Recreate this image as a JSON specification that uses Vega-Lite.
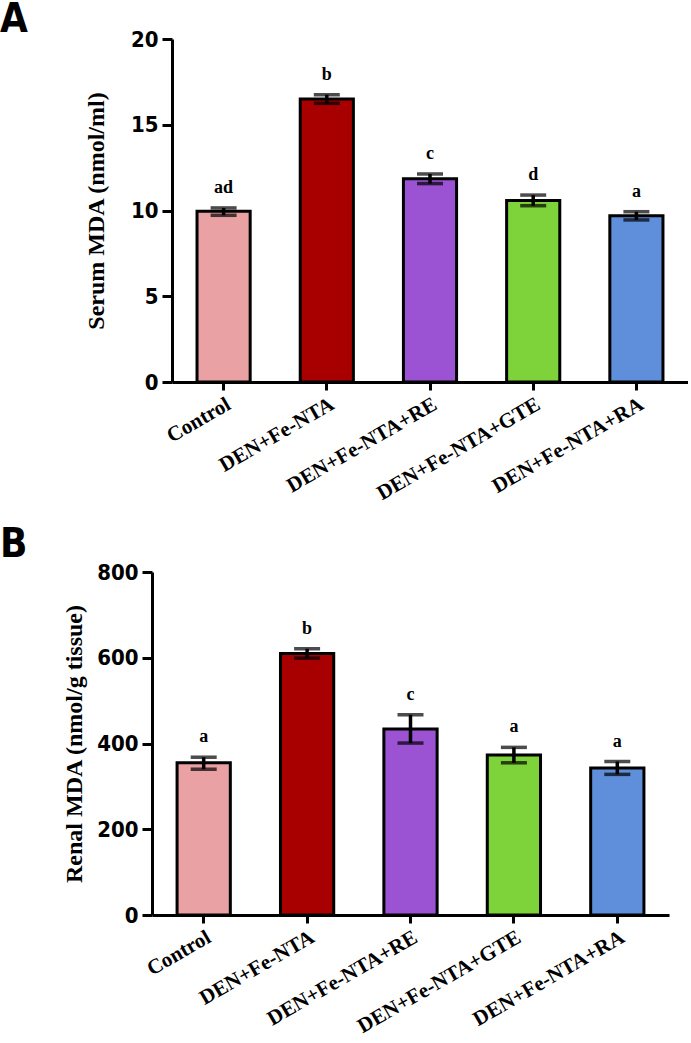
{
  "$schema": "https://vega.github.io/schema/vega-lite/v6.json",
  "padding": 0,
  "background": "white",
  "config": {
    "view": {"stroke": null},
    "axis": {"grid": false, "domainColor": "black", "domainWidth": 3, "tickColor": "black", "tickWidth": 3, "labelColor": "black", "titleColor": "black"},
    "axisX": {"labelFont": "Liberation Serif", "labelFontWeight": "bold", "labelFontSize": 21, "labelAngle": -30, "tickSize": 8, "labelPadding": 3, "labelLimit": 400},
    "axisY": {"labelFont": "Liberation Sans Narrow, DejaVu Sans Condensed, sans-serif", "labelFontWeight": "bold", "labelFontSize": 22, "tickSize": 10, "labelPadding": 4, "titleFont": "Liberation Serif", "titleFontWeight": "bold", "titleFontSize": 24},
    "title": {"font": "Liberation Sans Narrow, DejaVu Sans Condensed, sans-serif", "fontSize": 40, "fontWeight": "bold", "anchor": "start", "frame": "group", "color": "black", "offset": 0}
  },
  "vconcat": [
    {
      "title": {"text": "A", "dx": -152, "dy": 16},
      "width": 536,
      "height": 343,
      "data": {"values": [
        {"group": "Control", "mean": 9.95, "lo": 9.72, "hi": 10.15, "letter": "ad"},
        {"group": "DEN+Fe-NTA", "mean": 16.5, "lo": 16.25, "hi": 16.75, "letter": "b"},
        {"group": "DEN+Fe-NTA+RE", "mean": 11.85, "lo": 11.57, "hi": 12.13, "letter": "c"},
        {"group": "DEN+Fe-NTA+GTE", "mean": 10.58, "lo": 10.28, "hi": 10.9, "letter": "d"},
        {"group": "DEN+Fe-NTA+RA", "mean": 9.7, "lo": 9.45, "hi": 9.93, "letter": "a"}
      ]},
      "encoding": {
        "x": {"field": "group", "type": "nominal", "sort": null, "title": null, "scale": {"range": [20, 536], "paddingInner": 0.485, "paddingOuter": 0.2425}}
      },
      "layer": [
        {
          "mark": {"type": "bar", "stroke": "black", "strokeWidth": 3},
          "encoding": {
            "y": {"field": "mean", "type": "quantitative", "title": "Serum MDA (nmol/ml)", "scale": {"domain": [0, 20], "nice": false}, "axis": {"values": [0, 5, 10, 15, 20], "titlePadding": 22, "offset": -20}},
            "color": {"field": "group", "type": "nominal", "sort": null, "legend": null, "scale": {"domain": ["Control", "DEN+Fe-NTA", "DEN+Fe-NTA+RE", "DEN+Fe-NTA+GTE", "DEN+Fe-NTA+RA"], "range": ["#E9A1A3", "#A80000", "#9B52D3", "#7ED23A", "#5F8FDB"]}}
          }
        },
        {
          "mark": {"type": "errorbar", "ticks": {"size": 26, "thickness": 3.5, "color": "black"}, "rule": {"strokeWidth": 3.5, "color": "black"}},
          "encoding": {
            "y": {"field": "lo", "type": "quantitative", "title": "Serum MDA (nmol/ml)"},
            "y2": {"field": "hi"}
          }
        },
        {
          "mark": {"type": "text", "dy": -20, "font": "Liberation Serif", "fontWeight": "bold", "fontSize": 18, "baseline": "middle", "color": "black"},
          "encoding": {
            "y": {"field": "hi", "type": "quantitative", "title": "Serum MDA (nmol/ml)"},
            "text": {"field": "letter"}
          }
        }
      ]
    },
    {
      "title": {"text": "B", "dx": -152, "dy": 8},
      "width": 517,
      "height": 343,
      "data": {"values": [
        {"group": "Control", "mean": 355, "lo": 340, "hi": 368, "letter": "a"},
        {"group": "DEN+Fe-NTA", "mean": 610, "lo": 599, "hi": 621, "letter": "b"},
        {"group": "DEN+Fe-NTA+RE", "mean": 434, "lo": 401, "hi": 467, "letter": "c"},
        {"group": "DEN+Fe-NTA+GTE", "mean": 373, "lo": 355, "hi": 391, "letter": "a"},
        {"group": "DEN+Fe-NTA+RA", "mean": 343, "lo": 328, "hi": 358, "letter": "a"}
      ]},
      "encoding": {
        "x": {"field": "group", "type": "nominal", "sort": null, "title": null, "scale": {"paddingInner": 0.485, "paddingOuter": 0.2425}}
      },
      "layer": [
        {
          "mark": {"type": "bar", "stroke": "black", "strokeWidth": 3},
          "encoding": {
            "y": {"field": "mean", "type": "quantitative", "title": "Renal MDA (nmol/g tissue)", "scale": {"domain": [0, 800], "nice": false}, "axis": {"values": [0, 200, 400, 600, 800], "titlePadding": 10}},
            "color": {"field": "group", "type": "nominal", "sort": null, "legend": null, "scale": {"domain": ["Control", "DEN+Fe-NTA", "DEN+Fe-NTA+RE", "DEN+Fe-NTA+GTE", "DEN+Fe-NTA+RA"], "range": ["#E9A1A3", "#A80000", "#9B52D3", "#7ED23A", "#5F8FDB"]}}
          }
        },
        {
          "mark": {"type": "errorbar", "ticks": {"size": 26, "thickness": 3.5, "color": "black"}, "rule": {"strokeWidth": 3.5, "color": "black"}},
          "encoding": {
            "y": {"field": "lo", "type": "quantitative", "title": "Renal MDA (nmol/g tissue)"},
            "y2": {"field": "hi"}
          }
        },
        {
          "mark": {"type": "text", "dy": -20, "font": "Liberation Serif", "fontWeight": "bold", "fontSize": 18, "baseline": "middle", "color": "black"},
          "encoding": {
            "y": {"field": "hi", "type": "quantitative", "title": "Renal MDA (nmol/g tissue)"},
            "text": {"field": "letter"}
          }
        }
      ]
    }
  ],
  "spacing": 21
}
